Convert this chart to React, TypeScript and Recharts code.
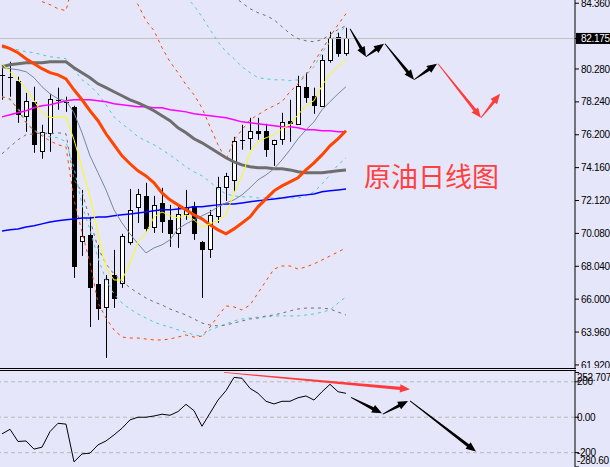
import React from 'react';
import { ComposedChart, Bar, Line, XAxis, YAxis, ReferenceLine } from 'recharts';

// daily bars, oldest first
const openP = [79.86, 79.74, 79.55, 77.38, 78.25, 75.2, 76.32, 78.37, 78.22, 77.94, 69.61, 69.99, 66.94, 65.52, 67.5, 67.01, 69.55, 71.73, 72.41, 70.48, 71.97, 70.92, 70.11, 71.29, 71.79, 69.55, 69.12, 71.17, 72.97, 73.4, 75.82, 76.01, 76.45, 76.45, 75.64, 75.95, 77.07, 76.88, 79.18, 78.62, 78.0, 80.85, 82.28, 81.29];
const highP = [80.54, 80.73, 79.8, 78.8, 79.18, 76.82, 78.74, 79.12, 78.56, 78.0, 72.78, 71.11, 69.37, 67.5, 69.06, 70.05, 72.84, 72.84, 73.22, 72.41, 72.91, 71.85, 71.85, 72.78, 72.04, 69.61, 71.54, 73.59, 73.84, 76.07, 76.82, 77.25, 77.25, 76.88, 75.89, 77.56, 78.37, 79.86, 80.05, 79.12, 81.16, 82.59, 82.53, 82.84];
const lowP = [78.37, 78.56, 76.94, 76.38, 75.08, 74.71, 75.14, 77.75, 77.62, 67.32, 68.68, 64.27, 64.71, 62.35, 65.45, 66.7, 69.37, 70.73, 70.17, 70.11, 70.11, 69.24, 69.18, 70.92, 69.68, 66.07, 68.56, 70.73, 72.1, 72.66, 75.27, 75.27, 75.89, 74.83, 74.27, 75.58, 75.76, 76.82, 78.18, 77.5, 78.0, 80.67, 81.04, 81.1];
const closeP = [79.92, 79.8, 77.5, 78.31, 75.64, 76.38, 78.43, 78.33, 78.25, 68.06, 69.92, 66.76, 65.45, 67.25, 66.07, 69.92, 71.54, 72.53, 70.42, 71.85, 70.86, 70.11, 71.29, 71.73, 70.11, 69.12, 71.23, 72.97, 73.65, 75.82, 75.89, 76.45, 76.32, 75.33, 75.89, 77.0, 76.94, 79.24, 78.56, 78.06, 80.85, 82.22, 81.29, 82.18];

// moving averages
const maYellow = [80.61, 80.11, 79.61, 79.05, 78.31, 77.56, 77.25, 77.31, 77.31, 75.89, 74.15, 72.35, 70.11, 67.94, 67.19, 67.19, 68.25, 69.55, 70.11, 71.1, 71.41, 71.17, 71.04, 71.23, 70.92, 70.48, 70.67, 70.86, 71.23, 72.59, 73.65, 75.08, 75.76, 76.01, 76.2, 76.57, 76.82, 77.44, 78.0, 78.31, 79.24, 79.98, 80.42, 80.92];
const maSlate = [80.36, 80.3, 80.23, 80.11, 79.74, 79.18, 78.74, 78.43, 78.31, 77.56, 76.32, 74.89, 73.84, 72.78, 71.54, 70.73, 70.05, 69.43, 68.87, 69.18, 69.37, 69.68, 70.36, 70.67, 70.92, 71.17, 71.41, 71.73, 71.97, 72.16, 72.47, 72.91, 73.4, 73.71, 74.09, 74.64, 75.27, 75.95, 76.51, 77.0, 77.75, 78.25, 78.74, 79.18];
const maOrange = [81.72, 81.54, 81.29, 80.92, 80.61, 80.3, 80.05, 79.92, 79.67, 78.99, 78.37, 77.69, 77.07, 76.26, 75.58, 74.89, 74.4, 73.96, 73.65, 73.22, 72.59, 72.16, 71.85, 71.54, 71.23, 70.98, 70.61, 70.3, 70.05, 70.36, 70.73, 71.1, 71.73, 72.22, 72.72, 73.03, 73.28, 73.53, 74.02, 74.46, 74.95, 75.51, 75.95, 76.45];
const maGrey = [80.42, 80.54, 80.61, 80.67, 80.67, 80.67, 80.73, 80.73, 80.73, 80.36, 80.05, 79.74, 79.36, 79.12, 78.87, 78.62, 78.37, 78.18, 77.94, 77.69, 77.38, 77.07, 76.63, 76.32, 75.95, 75.7, 75.39, 75.08, 74.77, 74.52, 74.33, 74.21, 74.15, 74.15, 74.09, 74.09, 74.02, 73.9, 73.84, 73.84, 73.84, 73.9, 73.96, 74.02];
const maMagenta = [77.31, 77.44, 77.56, 77.69, 77.87, 78.0, 78.06, 78.18, 78.31, 78.37, 78.37, 78.37, 78.31, 78.25, 78.12, 78.06, 78.0, 77.94, 77.94, 77.87, 77.87, 77.75, 77.69, 77.62, 77.5, 77.44, 77.38, 77.31, 77.25, 77.13, 77.0, 76.94, 76.88, 76.82, 76.76, 76.69, 76.69, 76.63, 76.51, 76.51, 76.45, 76.45, 76.38, 76.38];
const maBlue = [70.23, 70.3, 70.36, 70.48, 70.55, 70.67, 70.79, 70.86, 70.92, 70.98, 71.04, 71.04, 71.1, 71.1, 71.17, 71.23, 71.29, 71.35, 71.41, 71.48, 71.54, 71.54, 71.6, 71.66, 71.73, 71.73, 71.79, 71.85, 71.91, 71.91, 71.97, 72.04, 72.1, 72.16, 72.22, 72.28, 72.35, 72.41, 72.47, 72.53, 72.66, 72.72, 72.78, 72.84];

// band envelopes
const cyanUp = [84.58, 84.7, 85.08, 85.7, 86.07, 86.13, 86.01, 85.95, 86.07, 86.32, 87.37, 88.18, 88.93, 88.93, 88.31, 88.0, 87.62, 87.06, 86.82, 86.57, 86.13, 85.64, 85.33, 84.77, 84.21, 83.52, 82.72, 81.97, 81.35, 80.92, 80.42, 80.05, 79.74, 79.67, 79.61, 79.61, 79.55, 79.61, 79.92, 80.42, 81.29, 81.97, 82.53, 82.9];
const cyanMid = [81.6, 81.54, 81.47, 81.35, 81.29, 81.16, 81.04, 80.98, 80.92, 80.23, 79.61, 79.24, 78.74, 78.06, 77.31, 76.88, 76.51, 76.07, 75.82, 75.58, 75.27, 74.95, 74.58, 74.21, 73.9, 73.65, 73.28, 72.84, 72.53, 72.41, 72.35, 72.35, 72.28, 72.28, 72.28, 72.28, 72.28, 72.28, 72.41, 72.66, 73.15, 73.71, 74.33, 74.77];
const cyanLow = [78.56, 78.37, 77.87, 77.0, 76.51, 76.2, 76.07, 76.01, 75.76, 74.15, 71.85, 70.3, 68.56, 67.19, 66.32, 65.76, 65.39, 65.08, 64.83, 64.58, 64.4, 64.27, 64.09, 63.96, 63.78, 63.71, 64.09, 64.27, 64.46, 64.65, 64.77, 64.83, 64.89, 64.89, 64.96, 64.96, 64.96, 64.96, 65.02, 65.08, 65.2, 65.33, 65.76, 66.14];
const orangeUp = [85.08, 84.95, 84.95, 84.89, 84.77, 84.46, 84.27, 84.02, 83.9, 85.82, 86.57, 87.13, 88.37, 87.69, 87.06, 86.13, 85.2, 84.27, 83.28, 82.66, 81.6, 80.73, 80.05, 79.3, 78.68, 77.87, 76.69, 75.58, 74.64, 75.89, 76.51, 77.13, 77.44, 77.75, 78.0, 78.25, 78.87, 79.36, 79.92, 80.73, 81.47, 82.28, 83.03, 83.71];
const orangeLow = [78.56, 78.43, 77.75, 76.94, 76.45, 76.13, 75.82, 75.58, 75.45, 72.16, 70.17, 68.25, 65.76, 64.83, 64.09, 63.65, 63.59, 63.59, 63.53, 63.47, 63.47, 63.53, 63.65, 63.78, 63.65, 63.71, 64.27, 64.96, 65.58, 65.52, 65.33, 65.64, 66.38, 67.13, 67.87, 68.06, 68.06, 67.87, 68.0, 68.19, 68.43, 68.68, 68.93, 69.18];
const greyUp = [85.82, 85.64, 85.33, 85.14, 85.08, 85.01, 85.2, 85.14, 85.2, 87.31, 88.68, 88.68, 89.55, 90.04, 90.17, 90.11, 90.04, 89.98, 89.8, 89.55, 89.11, 88.74, 88.06, 87.62, 87.13, 86.88, 86.38, 85.82, 85.26, 84.77, 84.39, 84.02, 83.77, 83.59, 83.34, 82.9, 82.47, 82.16, 82.03, 81.97, 82.1, 82.41, 82.72, 82.97];
const greyLow = [75.02, 75.45, 75.89, 76.2, 76.26, 76.32, 76.26, 76.32, 76.26, 73.4, 72.66, 70.92, 69.18, 68.19, 67.56, 67.13, 66.7, 66.38, 66.07, 65.83, 65.64, 65.39, 65.2, 65.02, 64.77, 64.52, 64.4, 64.34, 64.4, 64.52, 64.65, 64.77, 64.83, 64.96, 65.02, 65.14, 65.27, 65.39, 65.45, 65.45, 65.45, 65.39, 65.2, 65.02];

// oscillator (lower panel)
const cci = [-94, -68, -137, -134, -180, -169, -81, -34, -39, -252, -207, -203, -156, -134, -100, -62, -15, 0, 0, 7, 17, 11, 32, 73, 37, -51, 23, 97, 150, 225, 220, 163, 135, 90, 75, 90, 90, 110, 120, 97, 144, 186, 144, 135];

const priceTicks = [84.36, 82.175, 80.28, 78.24, 76.2, 74.16, 72.12, 70.08, 68.04, 66.0, 63.96, 61.92];
const lastPrice = 82.175;
const cciTicks = [252.707, 200, 0, -200, -280.6];
const cciLevels = [200, 0, -200];
const title = '原油日线图';

// hand-drawn projection arrows: [bar index, value]
const priceArrows = [
  { from: [43.5, 82.78], to: [45.5, 81.04], color: '#000000' },
  { from: [45.5, 81.04], to: [47.75, 81.85], color: '#000000' },
  { from: [47.875, 81.85], to: [51.5, 79.61], color: '#000000' },
  { from: [51.5, 79.61], to: [54.375, 80.61], color: '#000000' },
  { from: [54.5, 80.61], to: [59.875, 77.25], color: '#FF3C3C' },
  { from: [59.875, 77.25], to: [62.25, 78.74], color: '#FF3C3C' },
];
const cciArrows = [
  { from: [27.75, 253], to: [51, 158], color: '#FF3C3C' },
  { from: [43.625, 112], to: [47.5, 22], color: '#000000' },
  { from: [47.6, 18], to: [50.75, 92], color: '#000000' },
  { from: [51, 92], to: [59.25, -194], color: '#000000' },
];

const rows = closeP.map((_, i) => ({
  i,
  o: openP[i],
  h: highP[i],
  l: lowP[i],
  c: closeP[i],
  range: [lowP[i], highP[i]],
  yel: maYellow[i],
  slate: maSlate[i],
  orange: maOrange[i],
  grey: maGrey[i],
  magenta: maMagenta[i],
  blue: maBlue[i],
  cyanUp: cyanUp[i],
  cyanMid: cyanMid[i],
  cyanLow: cyanLow[i],
  orangeUp: orangeUp[i],
  orangeLow: orangeLow[i],
  greyUp: greyUp[i],
  greyLow: greyLow[i],
  cci: cci[i],
}));

const Candle = (props: any) => {
  const { x, y, width, height, payload } = props;
  const { o, h, l, c } = payload;
  const cx = Math.round(x + width / 2);
  const span = h - l || 1;
  const toY = (v: number) => y + ((h - v) / span) * height;
  const top = Math.round(toY(Math.max(o, c)));
  const bot = Math.round(toY(Math.min(o, c)));
  const up = c >= o;
  return (
    <g>
      <line x1={cx + 0.5} x2={cx + 0.5} y1={y} y2={y + height} stroke="#000" strokeWidth={1} />
      {bot - top < 2 ? (
        <line x1={cx - 2} x2={cx + 3} y1={top + 0.5} y2={top + 0.5} stroke="#000" strokeWidth={1} />
      ) : (
        <rect x={cx - 1.5} y={top + 0.5} width={4} height={bot - top} fill={up ? '#FFFFFF' : '#000000'} stroke="#000" strokeWidth={1} />
      )}
    </g>
  );
};

const arrowShape = (color: string) => (props: any) => {
  const { x1, y1, x2, y2 } = props;
  const dx = x2 - x1;
  const dy = y2 - y1;
  const len = Math.hypot(dx, dy) || 1;
  const ux = dx / len;
  const uy = dy / len;
  const nx = -uy;
  const ny = ux;
  const head = 10;
  const bx = x2 - ux * head;
  const by = y2 - uy * head;
  const pts = [
    [x1 + nx * 0.4, y1 + ny * 0.4],
    [bx + nx * 1.6, by + ny * 1.6],
    [bx + nx * 4.2, by + ny * 4.2],
    [x2, y2],
    [bx - nx * 4.2, by - ny * 4.2],
    [bx - nx * 1.6, by - ny * 1.6],
    [x1 - nx * 0.4, y1 - ny * 0.4],
  ];
  return <polygon points={pts.map((p) => p.join(',')).join(' ')} fill={color} />;
};

const tickFont = { fontFamily: 'Liberation Sans', fontSize: 10, letterSpacing: -0.3 };

const PriceTick = (props: any) => {
  const { x, y, payload } = props;
  const v = payload.value;
  if (v === lastPrice) {
    return (
      <g>
        <rect x={x - 5} y={y - 5.5} width={40} height={11} fill="#000" />
        <text x={x} y={y} dy="0.36em" fill="#FFF" {...tickFont}>{v.toFixed(3)}</text>
      </g>
    );
  }
  return <text x={x} y={y} dy="0.36em" fill="#000" {...tickFont}>{v.toFixed(3)}</text>;
};

const CciTick = (props: any) => {
  const { x, y, payload } = props;
  const v = payload.value;
  let label = String(v);
  let shift = 0;
  if (v === 252.707) { label = '252.707'; shift = 4.5; }
  if (v === -280.6) { label = '-280.60'; shift = -7; }
  if (v === 0) label = '0.00';
  return <text x={x} y={y + shift} dy="0.36em" fill="#000" {...tickFont}>{label}</text>;
};

const bandLine = (key: string, color: string) => (
  <Line key={key} dataKey={key} type="linear" stroke={color} strokeWidth={1} strokeDasharray="3 4" dot={false} activeDot={false} isAnimationActive={false} />
);

export default function App() {
  return (
    <div style={{ position: 'absolute', left: 0, top: 0, width: 610, height: 467, background: '#E6E6FA', overflow: 'hidden' }}>
      <div style={{ position: 'absolute', left: 0, top: 0 }}>
        <ComposedChart width={610} height={368} data={rows} margin={{ top: 0, right: 0, bottom: 0, left: 0 }}>
          <XAxis dataKey="i" type="number" domain={[-0.25, 71.625]} hide allowDataOverflow />
          <YAxis orientation="right" width={35} domain={[61.73, 84.56]} allowDataOverflow ticks={priceTicks} interval={0} tickSize={4} tickMargin={2} stroke="#000" tick={PriceTick} />
          <ReferenceLine y={lastPrice} stroke="#C0C0C0" />
          <Bar dataKey="range" barSize={5} shape={(p: any) => <Candle {...p} />} isAnimationActive={false} />
          {bandLine('cyanUp', '#48D1CC')}
          {bandLine('cyanMid', '#48D1CC')}
          {bandLine('cyanLow', '#48D1CC')}
          {bandLine('greyUp', '#707070')}
          {bandLine('greyLow', '#707070')}
          {bandLine('orangeUp', '#FF4500')}
          {bandLine('orangeLow', '#FF4500')}
          <Line dataKey="blue" stroke="#0000FF" strokeWidth={1.5} dot={false} activeDot={false} isAnimationActive={false} />
          <Line dataKey="magenta" stroke="#FF00FF" strokeWidth={1.5} dot={false} activeDot={false} isAnimationActive={false} />
          <Line dataKey="grey" stroke="#6E6E6E" strokeWidth={3} dot={false} activeDot={false} isAnimationActive={false} />
          <Line dataKey="orange" stroke="#FF4500" strokeWidth={3} dot={false} activeDot={false} isAnimationActive={false} />
          <Line dataKey="slate" stroke="#778899" strokeWidth={1} dot={false} activeDot={false} isAnimationActive={false} />
          <Line dataKey="yel" stroke="#FFFF00" strokeWidth={1} dot={false} activeDot={false} isAnimationActive={false} />
          {priceArrows.map((a, k) => (
            <ReferenceLine key={k} segment={[{ x: a.from[0], y: a.from[1] }, { x: a.to[0], y: a.to[1] }]} shape={arrowShape(a.color)} ifOverflow="visible" />
          ))}
        </ComposedChart>
      </div>
      <div style={{ position: 'absolute', left: 0, top: 368, width: 576, height: 1, background: '#000' }} />
      <div style={{ position: 'absolute', left: 0, top: 370, width: 576, height: 1, background: '#000' }} />
      <div style={{ position: 'absolute', left: 0, top: 371 }}>
        <ComposedChart width={610} height={96} data={rows} margin={{ top: 0, right: 0, bottom: 0, left: 0 }}>
          <XAxis dataKey="i" type="number" domain={[-0.25, 71.625]} hide allowDataOverflow />
          <YAxis orientation="right" width={35} domain={[-281, 261]} allowDataOverflow ticks={cciTicks} interval={0} tickSize={4} tickMargin={-2} stroke="#000" tick={CciTick} />
          {cciLevels.map((v) => (
            <ReferenceLine key={v} y={v} stroke="#B8B8B8" strokeDasharray="4 3" />
          ))}
          <Line dataKey="cci" stroke="#000" strokeWidth={1} dot={false} activeDot={false} isAnimationActive={false} />
          {cciArrows.map((a, k) => (
            <ReferenceLine key={k} segment={[{ x: a.from[0], y: a.from[1] }, { x: a.to[0], y: a.to[1] }]} shape={arrowShape(a.color)} ifOverflow="visible" />
          ))}
        </ComposedChart>
      </div>
      <div style={{ position: 'absolute', left: 364, top: 162, fontFamily: 'Noto Sans CJK SC', fontSize: 27, lineHeight: 1, color: '#FF4040', whiteSpace: 'nowrap' }}>
        {title}
      </div>
    </div>
  );
}
